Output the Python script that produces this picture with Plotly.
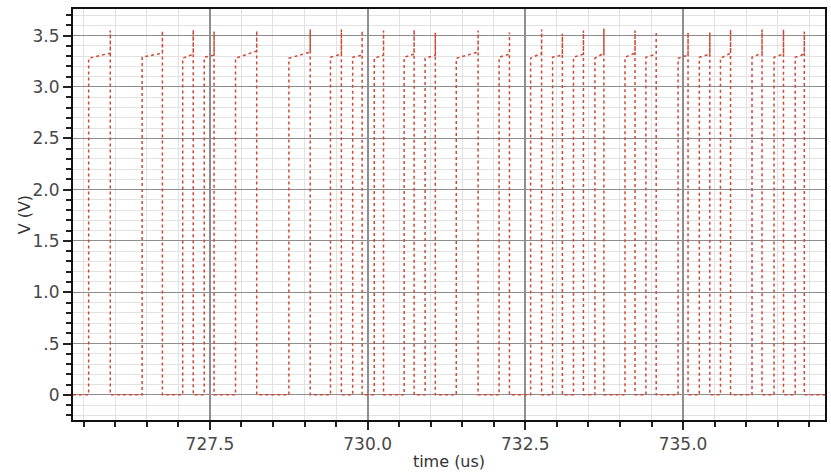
import plotly.graph_objects as go

# Pulse edges of the digital output (time in microseconds)
rise_us = [725.578, 726.426, 727.069, 727.410, 727.906, 728.752, 729.411, 729.763,
           730.105, 730.579, 730.911, 731.405, 732.084, 732.584, 732.932, 733.263,
           733.603, 734.080, 734.411, 734.921, 735.258, 735.593, 736.093, 736.442,
           736.777]
fall_us = [725.921, 726.747, 727.236, 727.566, 728.242, 729.090, 729.584, 729.913,
           730.252, 730.737, 731.073, 731.751, 732.248, 732.758, 733.087, 733.421,
           733.745, 734.239, 734.574, 735.079, 735.424, 735.753, 736.252, 736.592,
           736.922]
# Overshoot peak at each falling edge (V)
peak_v = [3.55, 3.55, 3.56, 3.54, 3.55, 3.56, 3.56, 3.55, 3.55, 3.56, 3.53, 3.55,
          3.53, 3.56, 3.52, 3.55, 3.57, 3.55, 3.54, 3.53, 3.53, 3.56, 3.56, 3.56,
          3.54]
# High level at the start and end of each pulse (V)
high_start_v = [3.28, 3.29, 3.28, 3.29, 3.28, 3.28, 3.29, 3.29, 3.28, 3.29, 3.28, 3.28,
                3.29, 3.28, 3.29, 3.29, 3.28, 3.29, 3.29, 3.28, 3.29, 3.28, 3.29, 3.29,
                3.29]
high_end_v = [3.33, 3.33, 3.32, 3.31, 3.35, 3.34, 3.32, 3.31, 3.31, 3.32, 3.31, 3.34,
              3.32, 3.33, 3.31, 3.32, 3.33, 3.33, 3.32, 3.31, 3.32, 3.33, 3.33, 3.32,
              3.32]
low_v = 0.0
t_start, t_end = 725.33, 737.25

x_tick_vals = [727.5, 730.0, 732.5, 735.0]
x_tick_text = ["727.5", "730.0", "732.5", "735.0"]
y_tick_vals = [0, 0.5, 1.0, 1.5, 2.0, 2.5, 3.0, 3.5]
y_tick_text = ["0", ".5", "1.0", "1.5", "2.0", "2.5", "3.0", "3.5"]

# Assemble the stepped waveform from the edge lists
xs, ys = [t_start], [low_v]
for r, f, pk, hs, he in zip(rise_us, fall_us, peak_v, high_start_v, high_end_v):
    xs += [r, r, f, f, f]
    ys += [low_v, hs, he, pk, low_v]
xs.append(t_end)
ys.append(low_v)

trace_color = "rgb(206,72,52)"
fig = go.Figure(go.Scatter(
    x=xs, y=ys, mode="lines",
    line=dict(color=trace_color, width=1.5, dash="dot"),
    hoverinfo="skip", showlegend=False,
))

font = dict(family="DejaVu Sans", size=17, color="#484848")
title_font = dict(family="DejaVu Sans", size=16, color="#333333")
fig.update_layout(
    width=831, height=472,
    margin=dict(l=73, r=4, t=9, b=52),
    paper_bgcolor="white", plot_bgcolor="white",
    font=font,
    showlegend=False,
    annotations=[dict(
        text="V (V)", textangle=-90, showarrow=False,
        xref="paper", yref="paper", x=-0.064, y=0.5,
        xanchor="center", yanchor="middle", font=title_font,
    )],
)
fig.update_xaxes(
    range=[t_start, t_end],
    tickvals=x_tick_vals, ticktext=x_tick_text,
    ticks="outside", ticklen=8, tickwidth=1.5, tickcolor="#222222",
    showgrid=True, gridcolor="#8e8e8e", gridwidth=1.5,
    minor=dict(dtick=0.5, tick0=727.5, ticks="outside", ticklen=5, tickwidth=1.5,
               tickcolor="#222222", showgrid=True, gridcolor="#e2e2e2", gridwidth=1),
    showline=True, linecolor="#111111", linewidth=2, mirror=True,
    zeroline=False,
    title=dict(text="time (us)", font=title_font, standoff=2),
    tickfont=font,
)
fig.update_yaxes(
    range=[-0.245, 3.76],
    tickvals=y_tick_vals, ticktext=y_tick_text,
    ticks="outside", ticklen=8, tickwidth=1.5, tickcolor="#222222",
    showgrid=True, gridcolor="#8e8e8e", gridwidth=1,
    minor=dict(dtick=0.1, tick0=0, ticks="outside", ticklen=5, tickwidth=1.5,
               tickcolor="#222222", showgrid=True, gridcolor="#e2e2e2", gridwidth=1),
    showline=True, linecolor="#111111", linewidth=2, mirror=True,
    zeroline=False,
    tickfont=font,
)

fig.write_html("out.html")
